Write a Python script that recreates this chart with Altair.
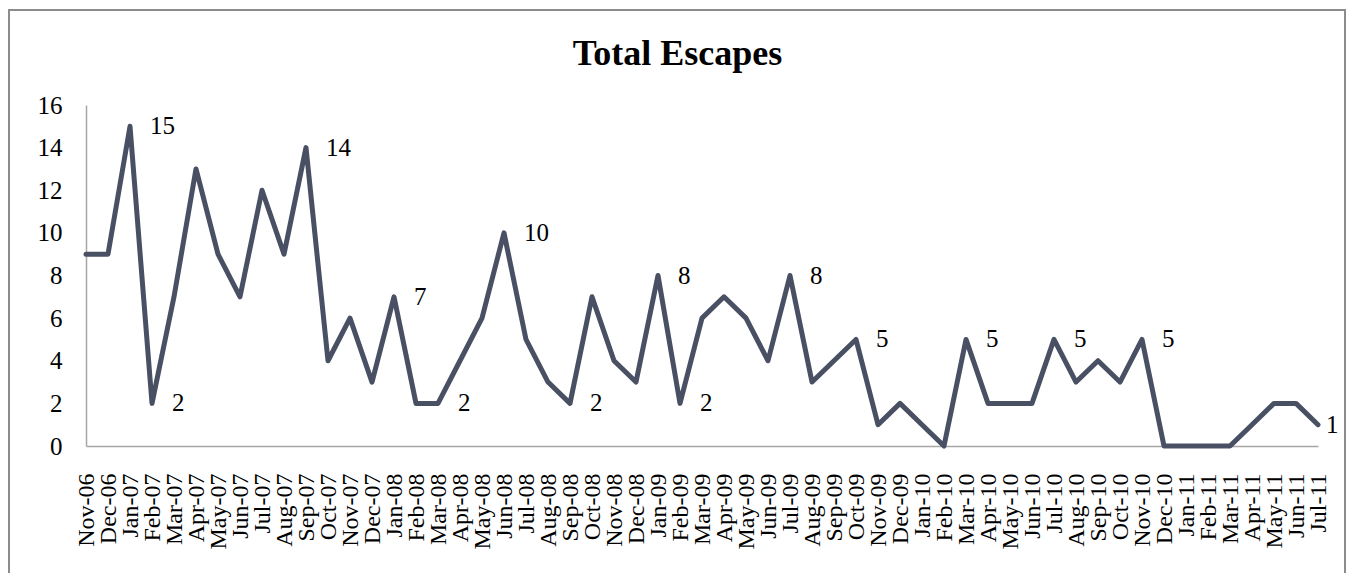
import altair as alt
import pandas as pd

months = [
    "Nov-06", "Dec-06",
    "Jan-07", "Feb-07", "Mar-07", "Apr-07", "May-07", "Jun-07",
    "Jul-07", "Aug-07", "Sep-07", "Oct-07", "Nov-07", "Dec-07",
    "Jan-08", "Feb-08", "Mar-08", "Apr-08", "May-08", "Jun-08",
    "Jul-08", "Aug-08", "Sep-08", "Oct-08", "Nov-08", "Dec-08",
    "Jan-09", "Feb-09", "Mar-09", "Apr-09", "May-09", "Jun-09",
    "Jul-09", "Aug-09", "Sep-09", "Oct-09", "Nov-09", "Dec-09",
    "Jan-10", "Feb-10", "Mar-10", "Apr-10", "May-10", "Jun-10",
    "Jul-10", "Aug-10", "Sep-10", "Oct-10", "Nov-10", "Dec-10",
    "Jan-11", "Feb-11", "Mar-11", "Apr-11", "May-11", "Jun-11", "Jul-11",
]

escapes = [
    9, 9,
    15, 2, 7, 13, 9, 7, 12, 9, 14, 4, 6, 3,
    7, 2, 2, 4, 6, 10, 5, 3, 2, 7, 4, 3,
    8, 2, 6, 7, 6, 4, 8, 3, 4, 5, 1, 2,
    1, 0, 5, 2, 2, 2, 5, 3, 4, 3, 5, 0,
    0, 0, 0, 1, 2, 2, 1,
]

labelled_months = [
    "Jan-07", "Feb-07", "Sep-07", "Jan-08", "Mar-08", "Jun-08", "Sep-08",
    "Jan-09", "Feb-09", "Jul-09", "Oct-09", "Mar-10", "Jul-10", "Nov-10",
]
last_month = ["Jul-11"]

y_ticks = [0, 2, 4, 6, 8, 10, 12, 14, 16]
title_text = "Total Escapes"

df = pd.DataFrame({"month": months, "escapes": escapes})

SERIF = "Liberation Serif"
LINE_COLOR = "#4a5064"
W, H = 1232, 341

x_enc = alt.X(
    "month:N",
    sort=months,
    scale=alt.Scale(type="point", padding=0),
    axis=alt.Axis(
        title=None,
        labelAngle=-90,
        labelAlign="right",
        labelBaseline="middle",
        labelPadding=27,
        labelFont=SERIF,
        labelFontSize=24,
        labelColor="black",
        labelOverlap=False,
        ticks=False,
        domainColor="#a6a6a6",
        domainWidth=1.5,
    ),
)
y_enc = alt.Y(
    "escapes:Q",
    scale=alt.Scale(domain=[0, 16], nice=False),
    axis=alt.Axis(
        title=None,
        values=y_ticks,
        grid=False,
        ticks=False,
        labelPadding=24,
        labelFont=SERIF,
        labelFontSize=25,
        labelColor="black",
        domainColor="#a6a6a6",
        domainWidth=1.5,
    ),
)

base = alt.Chart(df)

line = base.mark_line(
    color=LINE_COLOR, strokeWidth=5, strokeJoin="round", strokeCap="round"
).encode(x=x_enc, y=y_enc)

labels = base.transform_filter(
    alt.FieldOneOfPredicate(field="month", oneOf=labelled_months)
).mark_text(
    align="left", baseline="middle", dx=20, font=SERIF, fontSize=25, color="black"
).encode(x=alt.X("month:N", sort=months), y="escapes:Q", text="escapes:Q")

last_label = base.transform_filter(
    alt.FieldOneOfPredicate(field="month", oneOf=last_month)
).mark_text(
    align="left", baseline="middle", dx=8, font=SERIF, fontSize=25, color="black"
).encode(x=alt.X("month:N", sort=months), y="escapes:Q", text="escapes:Q")

title_df = pd.DataFrame({"t": [title_text]})
title = alt.Chart(title_df).mark_text(
    font=SERIF, fontSize=36, fontWeight="bold", color="black",
    align="center", baseline="alphabetic",
).encode(x=alt.value(591.5), y=alt.value(-40), text="t:N")

frame = alt.Chart(pd.DataFrame({"f": [0]})).mark_rect(
    filled=False, fill="transparent", stroke="#8c8c8c", strokeWidth=2
).encode(
    x=alt.value(-77), x2=alt.value(1259), y=alt.value(-95), y2=alt.value(620)
)

chart = alt.layer(frame, line, labels, last_label, title).properties(
    width=W,
    height=H,
    autosize=alt.AutoSizeParams(type="none"),
    padding={"left": 78, "top": 97, "right": 28, "bottom": 127},
    background="white",
).configure_view(strokeWidth=0)

chart.save("out.html", embed_options={"renderer": "svg", "actions": False})
